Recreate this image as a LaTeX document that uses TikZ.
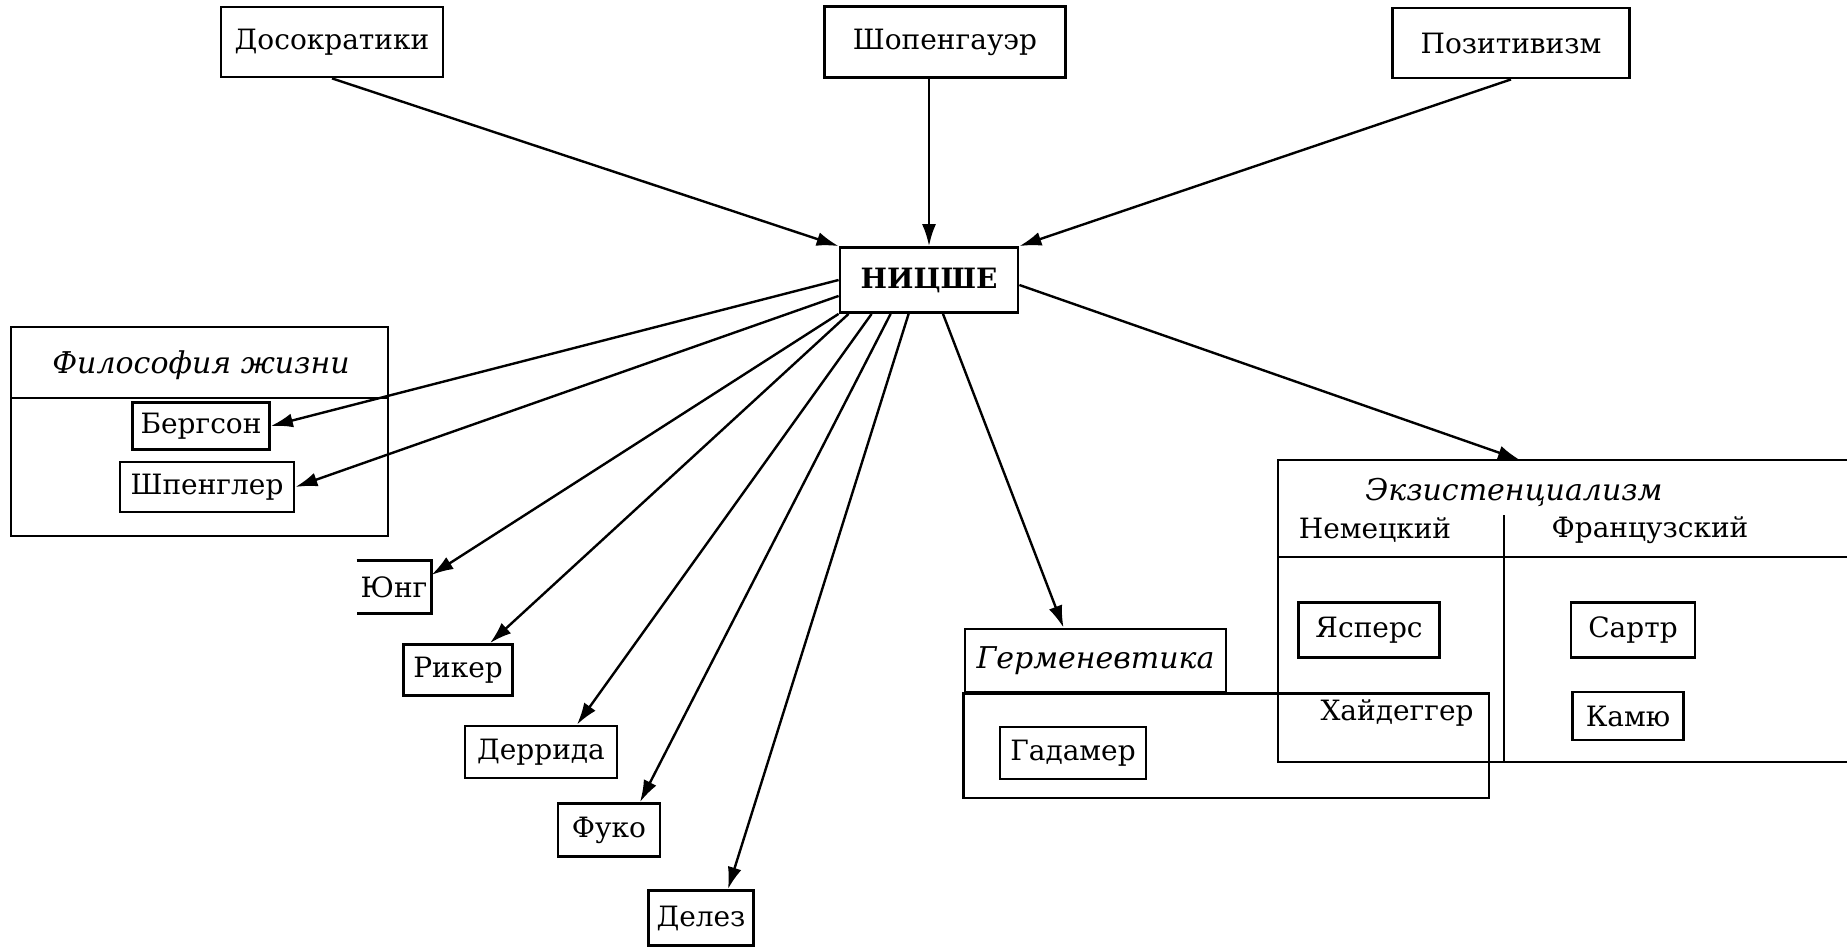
\documentclass[tikz,border=0pt]{standalone}
\usepackage{fontspec}
\setmainfont{DejaVu Serif}
\usetikzlibrary{arrows.meta}

\begin{document}
\begin{tikzpicture}[x=0.5pt,y=-0.5pt,
	box/.style={draw, line width=1.4pt, inner sep=0pt, minimum height=26pt},
	frame/.style={line width=1.4pt},
	arr/.style={-{Latex[length=11pt,width=7pt]}, line width=1.2pt},
	font=\fontsize{14}{16}\selectfont]

	\useasboundingbox (0,0) rectangle (1847,947);

	% sources
	\node[box, minimum width=111pt, minimum height=35pt] (Dos) at (332,42) {Досократики};
	\node[box, minimum width=120.5pt, minimum height=35.5pt] (Sch) at (945,42) {Шопенгауэр};
	\node[box, minimum width=118.5pt, minimum height=35pt] (Pos) at (1511,43) {Позитивизм};

	\node[box, minimum width=89pt, minimum height=32.5pt] (Nie) at (929,280) {\bfseries НИЦШЕ};

	\draw[arr] (Dos.south) -- (Nie.north west);
	\draw[arr] (Sch.south -| Nie.north) -- (Nie.north);
	\draw[arr] (Pos.south) -- (Nie.north east);

	% Philosophy of life
	\draw[frame] (11,327) rectangle (388,536);
	\draw[frame] (11,398) -- (388,398);
	\node[] (lblLife) at (201,365) {\itshape\fontsize{15}{17}\selectfont Философия жизни};
	\node[box, minimum width=68.5pt, minimum height=23.5pt] (Ber) at (201,426) {Бергсон};
	\node[box, minimum width=87pt, minimum height=25pt] (Spe) at (207,487) {Шпенглер};

	\draw[arr] (Nie.west) -- (Ber.east);
	\draw[arr] (Nie.190) -- (Spe.east);

	% fan below
	\node[inner sep=0pt, minimum width=37pt, minimum height=26pt] (Jun) at (394,587) {Юнг};
	\draw[frame] (Jun.north west) -- (Jun.north east) -- (Jun.south east) -- (Jun.south west);
	\node[box, minimum width=54.5pt, minimum height=25.5pt] (Rik) at (458,670) {Рикер};
	\node[box, minimum width=76pt] (Der) at (541,752) {Деррида};
	\node[box, minimum width=51pt, minimum height=26.5pt] (Fuk) at (609,830) {Фуко};
	\node[box, minimum width=52.5pt, minimum height=27.5pt] (Del) at (701,918) {Делез};

	\draw[arr] (Nie.south west) -- ([yshift=6pt]Jun.east);
	\draw[arr] ([xshift=5pt]Nie.south west) -- ([xshift=16pt]Rik.north);
	\draw[arr] ([xshift=16.5pt]Nie.south west) -- ([xshift=18pt]Der.north);
	\draw[arr] ([xshift=26pt]Nie.south west) -- ([xshift=15.5pt]Fuk.north);
	\draw[arr] ([xshift=35pt]Nie.south west) -- ([xshift=13.5pt]Del.north);

	% Hermeneutics
	\node[box, minimum width=130.5pt, minimum height=31.5pt] (Her) at (1095.5,660.5) {\itshape\fontsize{15}{17}\selectfont Герменевтика};
	\draw[frame] (Her.south west) rectangle (1489,798);
	\node[box, minimum width=73pt] (Gad) at (1073,753) {Гадамер};

	\draw[arr] ([xshift=7pt]Nie.south) -- ([xshift=-16pt]Her.north);

	% Existentialism
	\draw[frame] (1847,460) -- (1278,460) -- (1278,762) -- (1847,762);
	\draw[frame] (1278,557) -- (1847,557);
	\draw[frame] (1504,515) -- (1504,762);
	\coordinate (exTop) at (1520,460);
	\node[] (lblEx) at (1514,492) {\itshape\fontsize{15}{17}\selectfont Экзистенциализм};
	\node[] (lblGer) at (1375,530) {Немецкий};
	\node[] (lblFra) at (1650,530) {Французский};
	\node[box, minimum width=70.5pt, minimum height=27.5pt] (Jas) at (1369,630) {Ясперс};
	\node[] (Hei) at (1397,713) {Хайдеггер};
	\node[box, minimum width=62pt, minimum height=27.5pt] (Sar) at (1633,630) {Сартр};
	\node[box, minimum width=55.5pt, minimum height=24pt] (Kam) at (1628,716) {Камю};

	\draw[arr] ([yshift=-2.5pt]Nie.east) -- (exTop);

\end{tikzpicture}
\end{document}
